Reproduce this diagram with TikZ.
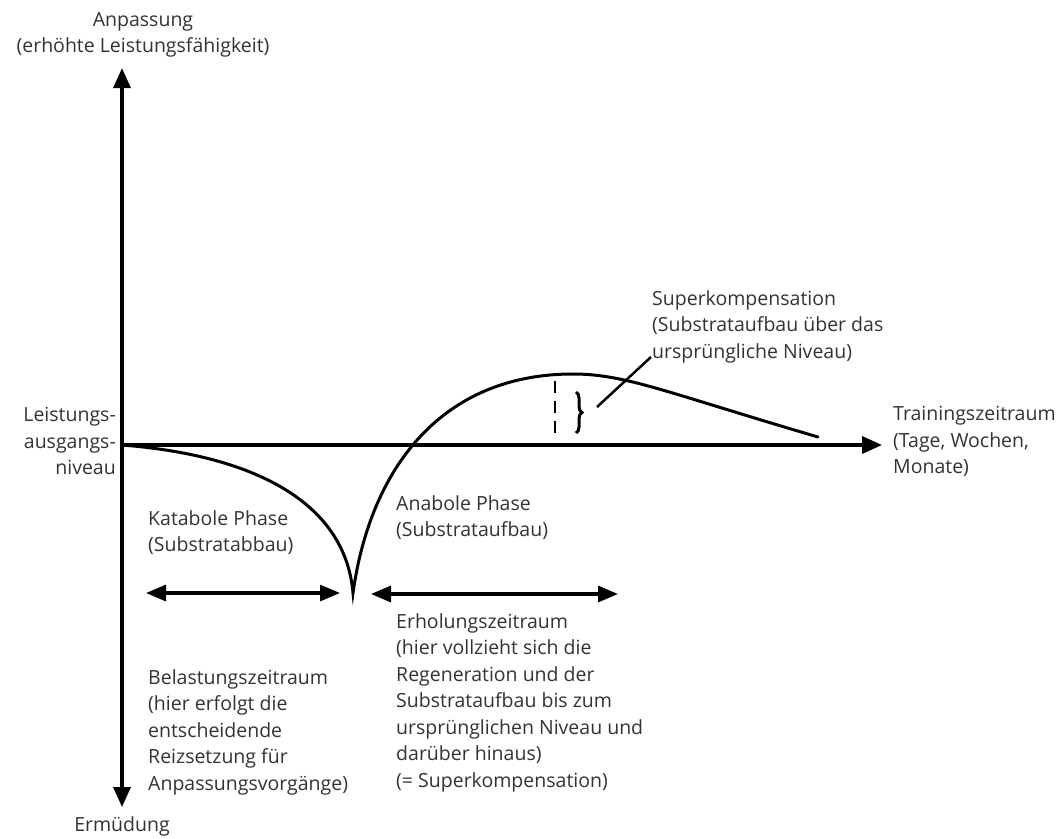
\documentclass[tikz,border=0pt]{standalone}
\usepackage{fontspec}
\setmainfont{Open Sans}
\usetikzlibrary{arrows.meta,decorations.pathreplacing}
\definecolor{txt}{HTML}{333333}
\tikzset{
  lbl/.style={font=\fontsize{19.5}{26.5}\selectfont, text=txt, inner sep=0pt, align=left},
  axis/.style={line width=3.4pt, -{Triangle[length=20pt,width=17pt]}},
  dbl/.style={line width=3.2pt, {Triangle[length=20pt,width=16pt]}-{Triangle[length=20pt,width=16pt]}},
  crv/.style={line width=3pt, line cap=round},
}
\begin{document}
\begin{tikzpicture}[x=1pt,y=-1pt]
\useasboundingbox (0,0) rectangle (1064,838);
% axes
\coordinate (O) at (122,445);
\coordinate (top) at (122,68);
\coordinate (bot) at (122,807);
\coordinate (right) at (882,445);
\draw[axis] (O) -- (top);
\draw[axis] (O) -- (bot);
\draw[axis] (O) -- (right);
% curve
\coordinate (cusp) at (353,593);
\coordinate (peak) at (573,374);
\coordinate (endc) at (818,437);
\draw[crv] (O) .. controls (250,455) and (345,500) .. (cusp)
  .. controls (370,470) and (440,374) .. (peak)
  .. controls (625,374) and (665,392) .. (endc);
% dashed line and brace
\coordinate (dtop) at (555,381);
\coordinate (dbot) at (555,440);
\draw[line width=2.8pt, dash pattern=on 12pt off 8pt] (dtop) -- (dbot);
\coordinate (btop) at (576,392);
\coordinate (bbot) at (576,433);
\draw[line width=3pt, decorate, decoration={brace, amplitude=6pt}] (btop) -- (bbot);
\coordinate (l1) at (597,407);
\coordinate (l2) at (651,357);
\draw[line width=2.5pt] (l1) -- (l2);
% double arrows
\coordinate (a1) at (146,593);
\coordinate (a2) at (340,593);
\coordinate (a3) at (371,594);
\coordinate (a4) at (618,594);
\draw[dbl] (a1) -- (a2);
\draw[dbl] (a3) -- (a4);
% labels
\node[lbl, align=center, anchor=north] (anp) at (143,12) {Anpassung\\(erhöhte Leistungsfähigkeit)};
\node[lbl, align=right, anchor=north east] (niv) at (116,407) {Leistungs-\\ausgangs-\\niveau};
\node[lbl, anchor=north west] (train) at (893,406) {Trainingszeitraum\\(Tage, Wochen,\\Monate)};
\node[lbl, anchor=north west] (sup) at (652,290) {Superkompensation\\(Substrataufbau über das\\ursprüngliche Niveau)};
\node[lbl, anchor=north west] (kat) at (148,510) {Katabole Phase\\(Substratabbau)};
\node[lbl, anchor=north west] (ana) at (396,495) {Anabole Phase\\(Substrataufbau)};
\node[lbl, anchor=north west] (erh) at (396,613) {Erholungszeitraum\\(hier vollzieht sich die\\Regeneration und der\\Substrataufbau bis zum\\ursprünglichen Niveau und\\darüber hinaus)\\(= Superkompensation)};
\node[lbl, anchor=north west] (bel) at (148,669) {Belastungszeitraum\\(hier erfolgt die\\entscheidende\\Reizsetzung für\\Anpassungsvorgänge)};
\node[lbl, anchor=north] (erm) at (122,816) {Ermüdung};
\end{tikzpicture}
\end{document}
